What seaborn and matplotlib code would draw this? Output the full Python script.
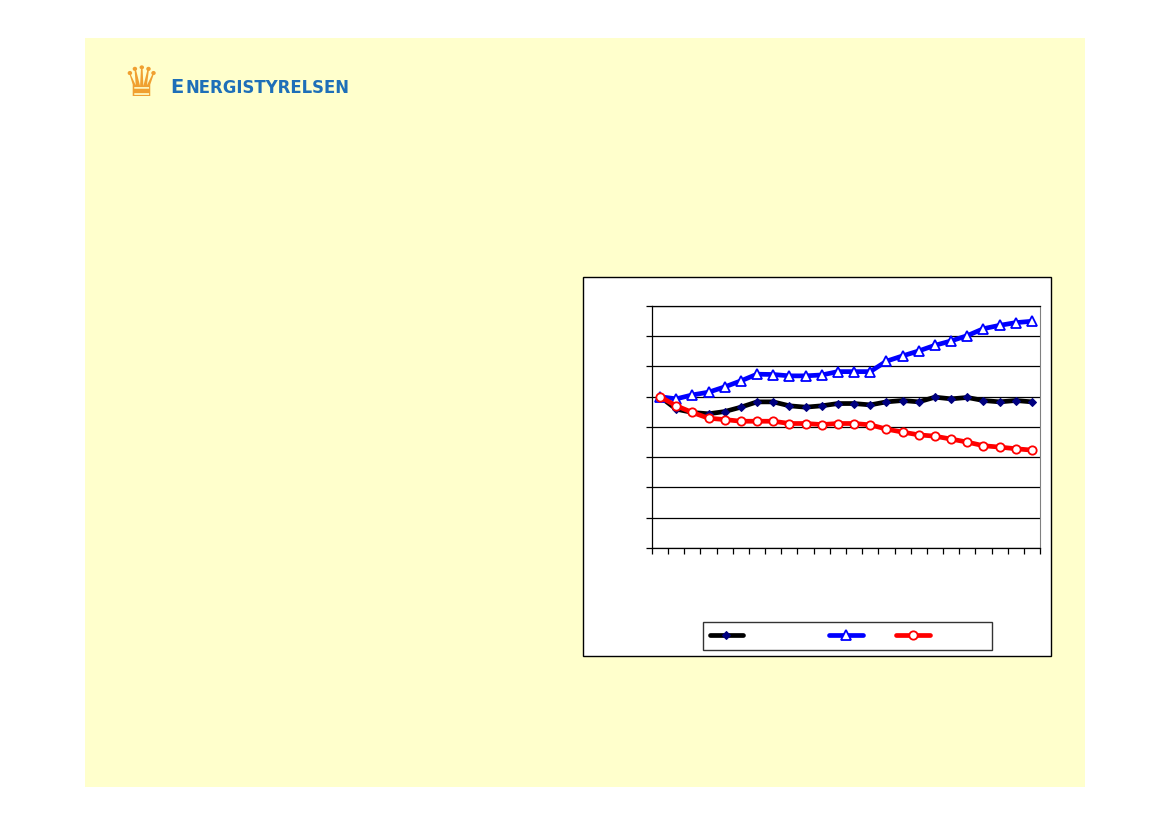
import numpy as np
import pandas as pd
import seaborn as sns
import matplotlib.pyplot as plt
from matplotlib.patches import Rectangle

# index values, first year = 100
years = list(range(1990, 2014))
black_vals = [100, 91.8, 89.6, 88.7, 90.2, 93.1, 96.6, 96.6, 94.0, 93.1, 94.0, 95.5,
              95.5, 94.6, 96.6, 97.5, 96.6, 99.7, 98.6, 99.5, 97.5, 96.6, 97.5, 96.6]
blue_vals = [100, 98.6, 101.2, 103.0, 106.5, 110.5, 114.9, 114.7, 113.8, 113.8, 114.4, 116.6,
             116.6, 116.6, 123.5, 127.0, 130.3, 134.0, 136.9, 140.4, 145.0, 147.2, 149.0, 149.9]
red_vals = [100, 94.0, 89.6, 85.8, 84.9, 83.8, 83.8, 83.8, 82.3, 82.3, 81.6, 82.3,
            82.3, 81.4, 78.6, 76.6, 74.8, 73.9, 72.0, 70.0, 67.6, 66.7, 65.6, 64.7]
y_ticks = list(range(0, 161, 20))

sns.set_style('ticks')
fig = plt.figure(figsize=(11.69, 8.27), dpi=100)

# pale yellow slide background
fig.patches.append(Rectangle((0.0727, 0.0484), 0.8554, 0.9057, transform=fig.transFigure,
                             facecolor='#FFFFCC', edgecolor='none', zorder=-2))
# white chart box
fig.patches.append(Rectangle((0.4987, 0.2068), 0.4003, 0.4583, transform=fig.transFigure,
                             facecolor='white', edgecolor='black', linewidth=1, zorder=-1))

# logo
fig.text(0.105, 0.884, '\u265B', fontsize=30, color='#F0A030', ha='left', va='baseline')
fig.text(0.1455, 0.888, 'E', fontsize=14, fontweight='bold', color='#1E6FB8', ha='left', va='baseline')
fig.text(0.1585, 0.888, 'NERGISTYRELSEN', fontsize=11.9, fontweight='bold', color='#1E6FB8',
         ha='left', va='baseline')

ax = fig.add_axes([0.5577, 0.3374, 0.332, 0.2926])
ax.set_facecolor('white')

sns.lineplot(x=years, y=black_vals, ax=ax, color='black', linewidth=3.4,
             marker='D', markersize=4, markerfacecolor='#000080', markeredgecolor='#000080', label=' ' * 14)
sns.lineplot(x=years, y=blue_vals, ax=ax, color='#0000FF', linewidth=3.4,
             marker='^', markersize=7.5, markerfacecolor='white', markeredgecolor='#0000FF',
             markeredgewidth=1.3, label=' ' * 2)
sns.lineplot(x=years, y=red_vals, ax=ax, color='#FF0000', linewidth=3.4,
             marker='o', markersize=6, markerfacecolor='white', markeredgecolor='#FF0000',
             markeredgewidth=1.3, label=' ' * 10)

ax.set_ylim(0, 160)
ax.set_xlim(years[0] - 0.5, years[-1] + 0.5)
ax.set_yticks(y_ticks)
ax.set_xticks(np.arange(years[0] - 0.5, years[-1] + 1, 1))
ax.yaxis.grid(True, color='black', linewidth=0.9)
ax.set_axisbelow(True)
ax.tick_params(axis='both', direction='out', length=4, width=0.9, color='black',
               labelleft=False, labelbottom=False)
ax.set_xlabel(''); ax.set_ylabel('')
for s in ['left', 'bottom', 'top']:
    ax.spines[s].set_color('black'); ax.spines[s].set_linewidth(0.9)
ax.spines['right'].set_visible(True)
ax.spines['right'].set_color('#808080')

handles, labels = ax.get_legend_handles_labels()
leg = ax.legend(handles, labels, ncol=3, loc='center left', bbox_to_anchor=(0.113, -0.362),
                frameon=True, fancybox=False, edgecolor='black', handlelength=2.4,
                columnspacing=1.0, borderpad=0.5, fontsize=10)
leg.get_frame().set_linewidth(1)

fig.savefig('out.png', dpi=100, facecolor='white')
